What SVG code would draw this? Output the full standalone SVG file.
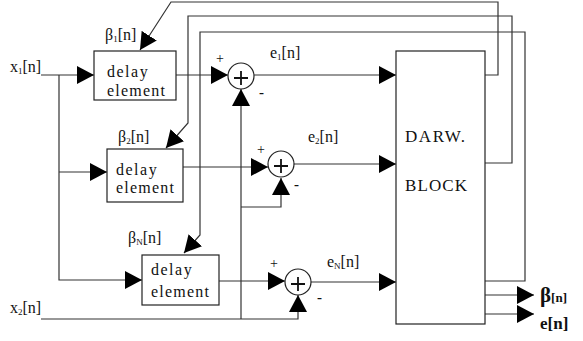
<svg xmlns="http://www.w3.org/2000/svg" width="583" height="341" viewBox="0 0 583 341">
<style>
.ln{fill:none;stroke:#333;stroke-width:1.2}
.box{fill:#fff;stroke:#222;stroke-width:1.2}
.sum{fill:#fff;stroke:#222;stroke-width:1.2}
.pl{stroke:#111;stroke-width:1.8}
.t{font-size:16px}
.sub{font-size:9px}
.sm{font-size:14px}
.mn{font-size:15px;font-weight:bold}
</style>
<defs>
<marker id="ah" markerUnits="userSpaceOnUse" markerWidth="18" markerHeight="18" refX="17" refY="9" orient="auto" viewBox="0 0 18 18">
<path d="M0,0 L17,9 L0,18 z" fill="#000"/>
</marker>
</defs>
<g id="connectors">
<path class="ln" d="M41,75 H94" marker-end="url(#ah)"/>
<path class="ln" d="M59,75 V280 H142" marker-end="url(#ah)"/>
<path class="ln" d="M59,172 H107" marker-end="url(#ah)"/>
<path class="ln" d="M41,319 H298 V295" marker-end="url(#ah)"/>
<path class="ln" d="M241,319 V89" marker-end="url(#ah)"/>
<path class="ln" d="M241,207 H281 V178" marker-end="url(#ah)"/>
<path class="ln" d="M176,75 H228" marker-end="url(#ah)"/>
<path class="ln" d="M183,167 H268" marker-end="url(#ah)"/>
<path class="ln" d="M219,281 H285" marker-end="url(#ah)"/>
<path class="ln" d="M254,75 H396" marker-end="url(#ah)"/>
<path class="ln" d="M294,164 H396" marker-end="url(#ah)"/>
<path class="ln" d="M311,282 H396" marker-end="url(#ah)"/>
<path class="ln" d="M485,75 H498 V2 H171 L140,50" marker-end="url(#ah)"/>
<path class="ln" d="M485,163 H512 V16 H188 V123 L166,148" marker-end="url(#ah)"/>
<path class="ln" d="M485,281 H525 V32 H200 V235 L184,253" marker-end="url(#ah)"/>
<path class="ln" d="M485,295 H534" marker-end="url(#ah)"/>
<path class="ln" d="M485,314 H534" marker-end="url(#ah)"/>
</g>
<g font-family="'Liberation Serif', 'Times New Roman', serif" fill="#111">
<g id="delay1">
<rect class="box" x="94" y="51" width="82" height="49"/>
<text class="t" x="107" y="77" letter-spacing="1.5">delay</text>
<text class="t" x="107" y="96" letter-spacing="1.2">element</text>
</g>
<g id="delay2">
<rect class="box" x="107" y="149" width="76" height="53"/>
<text class="t" x="116" y="175" letter-spacing="1.5">delay</text>
<text class="t" x="116" y="193" letter-spacing="1.2">element</text>
</g>
<g id="delayN">
<rect class="box" x="142" y="255" width="77" height="50"/>
<text class="t" x="151" y="275" letter-spacing="1.5">delay</text>
<text class="t" x="151" y="297" letter-spacing="1.2">element</text>
</g>
<g id="sum1">
<circle class="sum" cx="241" cy="76" r="13"/>
<path class="pl" d="M234,78 H248 M241,71 V85"/>
</g>
<g id="sum2">
<circle class="sum" cx="281" cy="164" r="13"/>
<path class="pl" d="M274,166 H288 M281,159 V173"/>
</g>
<g id="sumN">
<circle class="sum" cx="298" cy="282" r="13"/>
<path class="pl" d="M291,284 H305 M298,277 V291"/>
</g>
<g id="darw">
<rect class="box" x="396" y="51" width="89" height="273"/>
<text x="405" y="142" font-size="17" textLength="60" lengthAdjust="spacing">DARW.</text>
<text x="405" y="191" font-size="17" textLength="62" lengthAdjust="spacing">BLOCK</text>
</g>
<g id="labels">
<text class="t" x="10" y="72">x<tspan class="sub" dy="2">1</tspan><tspan dy="-2">[n]</tspan></text>
<text class="t" x="10" y="313">x<tspan class="sub" dy="2">2</tspan><tspan dy="-2">[n]</tspan></text>
<text class="t" x="105" y="40">β<tspan class="sub" dy="2">1</tspan><tspan dy="-2">[n]</tspan></text>
<text class="t" x="118" y="142">β<tspan class="sub" dy="2">2</tspan><tspan dy="-2">[n]</tspan></text>
<text class="t" x="128" y="243">β<tspan class="sub" dy="2">N</tspan><tspan dy="-2">[n]</tspan></text>
<text class="t" x="270" y="58">e<tspan class="sub" dy="2">1</tspan><tspan dy="-2">[n]</tspan></text>
<text class="t" x="308" y="142">e<tspan class="sub" dy="2">2</tspan><tspan dy="-2">[n]</tspan></text>
<text class="t" x="327" y="267">e<tspan class="sub" dy="2">N</tspan><tspan dy="-2">[n]</tspan></text>
<text class="sm" x="216" y="63">+</text>
<text class="sm" x="257" y="154">+</text>
<text class="sm" x="270" y="268">+</text>
<text class="mn" x="259" y="97">-</text>
<text class="mn" x="294" y="189">-</text>
<text class="mn" x="317" y="302">-</text>
<text x="540" y="302" font-weight="bold"><tspan font-size="21">β</tspan><tspan font-size="13">[n]</tspan></text>
<text x="540" y="329" font-size="17" font-weight="bold">e[n]</text>
</g>
</g>
</svg>
